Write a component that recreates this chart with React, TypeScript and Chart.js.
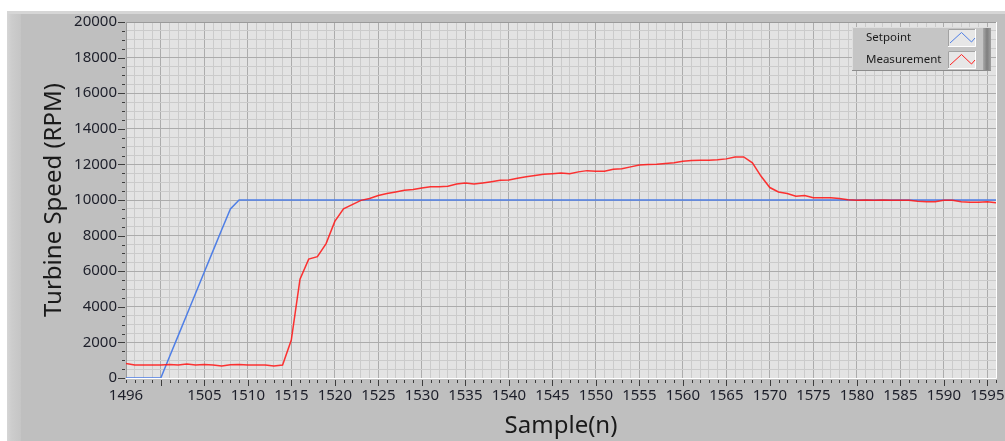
import { useEffect, useRef } from 'react';
import { Chart, registerables } from 'chart.js';

Chart.register(...registerables);

// ---------- data ----------
const samples = [
  1496, 1497, 1498, 1499, 1500, 1501, 1502, 1503, 1504, 1505,
  1506, 1507, 1508, 1509, 1510, 1511, 1512, 1513, 1514, 1515,
  1516, 1517, 1518, 1519, 1520, 1521, 1522, 1523, 1524, 1525,
  1526, 1527, 1528, 1529, 1530, 1531, 1532, 1533, 1534, 1535,
  1536, 1537, 1538, 1539, 1540, 1541, 1542, 1543, 1544, 1545,
  1546, 1547, 1548, 1549, 1550, 1551, 1552, 1553, 1554, 1555,
  1556, 1557, 1558, 1559, 1560, 1561, 1562, 1563, 1564, 1565,
  1566, 1567, 1568, 1569, 1570, 1571, 1572, 1573, 1574, 1575,
  1576, 1577, 1578, 1579, 1580, 1581, 1582, 1583, 1584, 1585,
  1586, 1587, 1588, 1589, 1590, 1591, 1592, 1593, 1594, 1595,
  1596,
];

const setpoint = [
  0, 0, 0, 0, 0, 1190, 2380, 3570, 4760, 5950,
  7140, 8330, 9500, 10000, 10000, 10000, 10000, 10000, 10000, 10000,
  10000, 10000, 10000, 10000, 10000, 10000, 10000, 10000, 10000, 10000,
  10000, 10000, 10000, 10000, 10000, 10000, 10000, 10000, 10000, 10000,
  10000, 10000, 10000, 10000, 10000, 10000, 10000, 10000, 10000, 10000,
  10000, 10000, 10000, 10000, 10000, 10000, 10000, 10000, 10000, 10000,
  10000, 10000, 10000, 10000, 10000, 10000, 10000, 10000, 10000, 10000,
  10000, 10000, 10000, 10000, 10000, 10000, 10000, 10000, 10000, 10000,
  10000, 10000, 10000, 10000, 10000, 10000, 10000, 10000, 10000, 10000,
  10000, 10000, 10000, 10000, 10000, 10000, 10000, 10000, 10000, 10000,
  10000,
];

const measurement = [
  810, 730, 730, 730, 730, 760, 730, 780, 730, 760,
  730, 670, 740, 760, 730, 730, 730, 670, 730, 2130,
  5550, 6680, 6820, 7550, 8800, 9500, 9740, 9980, 10080, 10250,
  10360, 10450, 10550, 10590, 10680, 10740, 10740, 10770, 10900, 10960,
  10900, 10960, 11030, 11110, 11130, 11220, 11300, 11370, 11450, 11480,
  11520, 11480, 11580, 11650, 11620, 11620, 11730, 11750, 11860, 11970,
  11990, 12010, 12050, 12090, 12180, 12220, 12240, 12240, 12260, 12310,
  12420, 12420, 12090, 11330, 10700, 10450, 10360, 10210, 10250, 10130,
  10130, 10130, 10080, 10020, 9980, 10000, 9980, 10000, 9980, 9980,
  9980, 9930, 9900, 9900, 9980, 9980, 9900, 9870, 9870, 9900,
  9850,
];

const xTickLabels = [1496, 1505, 1510, 1515, 1520, 1525, 1530, 1535, 1540, 1545, 1550, 1555, 1560, 1565, 1570, 1575, 1580, 1585, 1590, 1595];
const yTickLabels = [0, 2000, 4000, 6000, 8000, 10000, 12000, 14000, 16000, 18000, 20000];
const seriesNames = ['Setpoint', 'Measurement'];
const xAxisTitle = 'Sample(n)';
const yAxisTitle = 'Turbine Speed (RPM)';

// ---------- styles ----------
const FONT = '"Noto Sans", "Open Sans", sans-serif';
const BLUE = '#4f7fe6';
const RED = 'rgba(255, 24, 24, 0.88)';
const PLOT_BG = '#e3e3e3';
const GRID_MINOR = '#cbcbcb';
const GRID_MAJOR = '#acacac';
const TEXT = '#1d1f2a';

const X_MIN = 1496;
const X_MAX = 1596;
const Y_MIN = 0;
const Y_MAX = 20000;

const labviewPlugin = {
  id: 'labviewLook',
  beforeDraw(chart: any) {
    const { ctx, chartArea: a } = chart;
    ctx.save();
    ctx.fillStyle = PLOT_BG;
    ctx.fillRect(a.left, a.top, a.right - a.left, a.bottom - a.top);
    ctx.restore();
  },
  beforeDatasetsDraw(chart: any) {
    const { ctx, chartArea: a } = chart;
    ctx.save();
    ctx.lineWidth = 1;
    ctx.strokeStyle = '#9a9a9a';
    ctx.beginPath();
    ctx.moveTo(a.left + 0.5, a.bottom);
    ctx.lineTo(a.left + 0.5, a.top + 0.5);
    ctx.lineTo(a.right, a.top + 0.5);
    ctx.stroke();
    ctx.strokeStyle = '#ffffff';
    ctx.beginPath();
    ctx.moveTo(a.left, a.bottom + 0.5);
    ctx.lineTo(a.right + 0.5, a.bottom + 0.5);
    ctx.lineTo(a.right + 0.5, a.top);
    ctx.stroke();
    ctx.restore();
  },
  afterDraw(chart: any) {
    const { ctx, chartArea: a, scales } = chart;
    const xs = scales.x;
    const ys = scales.y;
    ctx.save();
    ctx.lineWidth = 1;
    ctx.strokeStyle = '#3c3c3c';
    // x tick marks
    for (const t of xs.ticks) {
      const v = t.value;
      const px = Math.round(xs.getPixelForValue(v)) + 0.5;
      const len = v % 5 === 0 ? 6 : 3;
      ctx.beginPath();
      ctx.moveTo(px, a.bottom + 2);
      ctx.lineTo(px, a.bottom + 2 + len);
      ctx.stroke();
    }
    // y tick marks
    for (const t of ys.ticks) {
      const v = t.value;
      const py = Math.round(ys.getPixelForValue(v)) + 0.5;
      const len = v % 2000 === 0 ? 7 : 3;
      ctx.beginPath();
      ctx.moveTo(a.left - 1, py);
      ctx.lineTo(a.left - 1 - len, py);
      ctx.stroke();
    }

    // legend box
    const lx = 852, ly = 27, lw = 139, lh = 44;
    ctx.fillStyle = '#c5c5c5';
    ctx.fillRect(lx, ly, lw, lh);
    const g = ctx.createLinearGradient(lx + lw - 8, 0, lx + lw, 0);
    g.addColorStop(0, '#a9a9a9');
    g.addColorStop(0.5, '#7e7e7e');
    g.addColorStop(1, '#a0a0a0');
    ctx.fillStyle = g;
    ctx.fillRect(lx + lw - 8, ly, 8, lh);
    ctx.strokeStyle = '#dedede';
    ctx.beginPath();
    ctx.moveTo(lx + 0.5, ly + lh);
    ctx.lineTo(lx + 0.5, ly + 0.5);
    ctx.lineTo(lx + lw, ly + 0.5);
    ctx.stroke();
    ctx.strokeStyle = '#8c8c8c';
    ctx.beginPath();
    ctx.moveTo(lx, ly + lh - 0.5);
    ctx.lineTo(lx + lw, ly + lh - 0.5);
    ctx.stroke();

    const colors = [BLUE, '#ff2020'];
    const rows = [29, 51];
    ctx.font = `11.5px ${FONT}`;
    ctx.textBaseline = 'middle';
    ctx.textAlign = 'left';
    seriesNames.forEach((name, i) => {
      const sy = rows[i];
      ctx.fillStyle = '#1a1a1a';
      ctx.fillText(name, 866, sy + 9);
      const sx = 948, sw = 28, sh = 18;
      ctx.fillStyle = '#e7e7e7';
      ctx.fillRect(sx, sy, sw, sh);
      ctx.strokeStyle = '#a2a2a2';
      ctx.beginPath();
      ctx.moveTo(sx + 0.5, sy + sh);
      ctx.lineTo(sx + 0.5, sy + 0.5);
      ctx.lineTo(sx + sw, sy + 0.5);
      ctx.stroke();
      ctx.strokeStyle = '#ffffff';
      ctx.beginPath();
      ctx.moveTo(sx, sy + sh - 0.5);
      ctx.lineTo(sx + sw - 0.5, sy + sh - 0.5);
      ctx.lineTo(sx + sw - 0.5, sy);
      ctx.stroke();
      ctx.strokeStyle = colors[i];
      ctx.lineWidth = 1;
      ctx.beginPath();
      ctx.moveTo(sx + 2, sy + 14);
      ctx.lineTo(sx + 13.5, sy + 3.5);
      ctx.lineTo(sx + 23.5, sy + 13);
      ctx.lineTo(sx + 27, sy + 9);
      ctx.stroke();
    });
    ctx.restore();
  },
};

export default function App() {
  const canvasRef = useRef<HTMLCanvasElement | null>(null);

  useEffect(() => {
    document.body.style.margin = '0';
    const canvas = canvasRef.current;
    if (!canvas) return;
    const chart = new Chart(canvas, {
      type: 'line',
      data: {
        datasets: [
          {
            label: seriesNames[0],
            data: samples.map((s, i) => ({ x: s, y: setpoint[i] })),
            borderColor: BLUE,
            borderWidth: 1.5,
            pointRadius: 0,
            tension: 0,
            fill: false,
            order: 2,
          },
          {
            label: seriesNames[1],
            data: samples.map((s, i) => ({ x: s, y: measurement[i] })),
            borderColor: RED,
            borderWidth: 1.5,
            pointRadius: 0,
            tension: 0,
            fill: false,
            order: 1,
          },
        ],
      },
      options: {
        responsive: false,
        animation: false,
        devicePixelRatio: 1,
        layout: { padding: { left: 0, top: 22, right: 9, bottom: 0 } },
        plugins: {
          legend: { display: false },
          tooltip: { enabled: false },
        },
        scales: {
          x: {
            type: 'linear',
            min: X_MIN,
            max: X_MAX,
            afterFit: (s: any) => {
              s.height = 63;
            },
            ticks: {
              stepSize: 1,
              autoSkip: false,
              maxRotation: 0,
              minRotation: 0,
              padding: 9,
              color: TEXT,
              font: { family: FONT, size: 15 },
              callback: (v: any) => (xTickLabels.includes(Number(v)) ? String(v) : ''),
            },
            grid: {
              drawTicks: false,
              lineWidth: 1,
              color: (c: any) => (c.tick && c.tick.value % 5 === 0 ? GRID_MAJOR : GRID_MINOR),
            },
            border: { display: false },
            title: {
              display: true,
              text: xAxisTitle,
              color: '#1a1a1a',
              font: { family: FONT, size: 24 },
              padding: { top: 0, bottom: 0 },
            },
          },
          y: {
            type: 'linear',
            min: Y_MIN,
            max: Y_MAX,
            afterFit: (s: any) => {
              s.width = 126;
            },
            ticks: {
              stepSize: 500,
              autoSkip: false,
              padding: 9,
              color: TEXT,
              font: { family: FONT, size: 15 },
              callback: (v: any) => (yTickLabels.includes(Number(v)) ? String(v) : ''),
            },
            grid: {
              drawTicks: false,
              lineWidth: 1,
              color: (c: any) => (c.tick && c.tick.value % 2000 === 0 ? GRID_MAJOR : GRID_MINOR),
            },
            border: { display: false },
            title: {
              display: true,
              text: yAxisTitle,
              color: '#1a1a1a',
              font: { family: FONT, size: 24 },
              padding: { top: 40, bottom: 0 },
            },
          },
        },
      },
      plugins: [labviewPlugin],
    });
    return () => chart.destroy();
  }, []);

  return (
    <div style={{ position: 'relative', width: 1005, height: 441, overflow: 'hidden', background: '#ffffff' }}>
      <div style={{ position: 'absolute', left: 7, top: 11, right: 0, bottom: 0, background: '#bfbfbf' }} />
      <div
        style={{
          position: 'absolute',
          left: 7,
          top: 11,
          width: 14,
          bottom: 0,
          background: 'linear-gradient(to right, #d6d6d6, #cdcdcd 30%, #c5c5c5)',
        }}
      />
      <div style={{ position: 'absolute', left: 7, top: 11, right: 0, height: 3, background: '#d6d6d6' }} />
      <canvas
        ref={canvasRef}
        width={1005}
        height={441}
        style={{ position: 'absolute', left: 0, top: 0, width: 1005, height: 441 }}
      />
    </div>
  );
}
